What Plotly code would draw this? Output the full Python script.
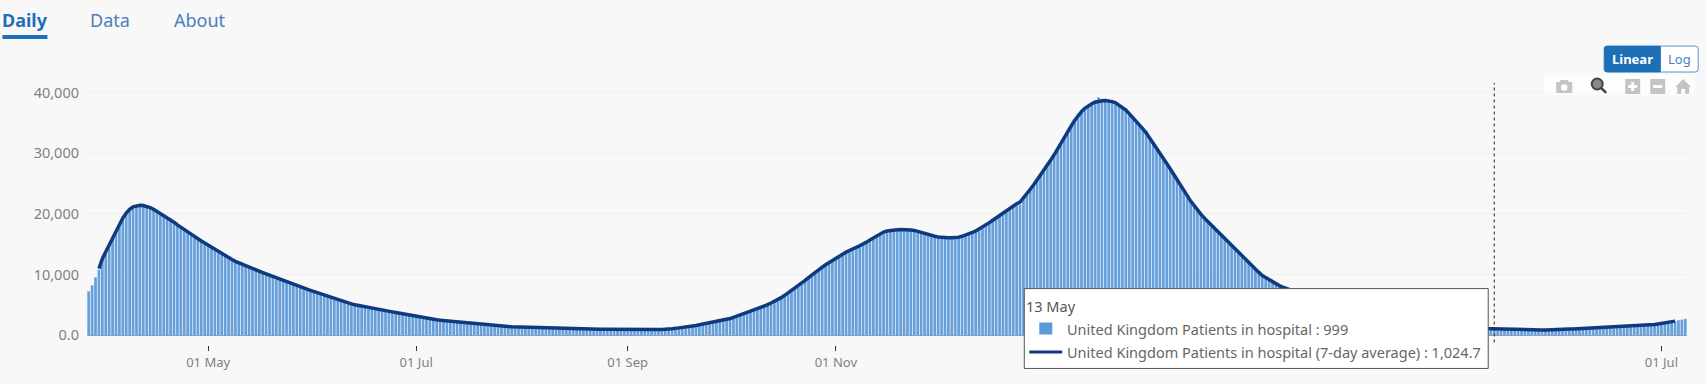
import pandas as pd
import plotly.graph_objects as go

START_DATE = "2020-03-27"
AVG_OFFSET = 3
SERIES_BARS = "United Kingdom Patients in hospital"
SERIES_AVG = "United Kingdom Patients in hospital (7-day average)"
TABS = ["Daily", "Data", "About"]
Y_TICKS = [0, 10000, 20000, 30000, 40000]
Y_LABELS = ["0.0", "10,000", "20,000", "30,000", "40,000"]
X_TICKS = ["2020-05-01", "2020-07-01", "2020-09-01", "2020-11-01", "2021-07-01"]
X_LABELS = ["01 May", "01 Jul", "01 Sep", "01 Nov", "01 Jul"]
TOOLTIP_DATE = "2021-05-13"
TOOLTIP_LABEL = "13 May"
TOOLTIP_BAR = "999"
TOOLTIP_AVG = "1,024.7"

patients = [
    7240,8230,9540,10800,12700,13700,15000,16200,16900,18300,
    19500,20100,20800,21100,21400,21500,21650,21100,20900,20800,
    20300,19800,19800,19300,18900,18700,18000,17700,17300,17100,
    16500,16100,15900,15500,15200,14800,14500,14200,13700,13400,
    13200,12900,12400,12200,11900,11700,11400,11200,11000,10800,
    10500,10300,10100,9900,9600,9400,9200,8950,8750,8550,
    8350,8150,7950,7750,7600,7400,7200,7000,6800,6600,
    6400,6200,5950,5800,5700,5480,5300,5150,5050,4900,
    4780,4650,4550,4450,4340,4240,4150,4050,3940,3840,
    3740,3630,3520,3420,3310,3200,3090,2990,2880,2780,
    2690,2610,2530,2470,2410,2350,2300,2240,2190,2130,
    2080,2020,1960,1900,1850,1800,1740,1680,1630,1580,
    1530,1480,1440,1410,1380,1360,1340,1320,1300,1280,
    1260,1240,1220,1190,1170,1150,1120,1100,1080,1070,
    1060,1050,1040,1030,1020,1015,1010,1010,1000,990,
    980,970,960,940,930,920,905,895,890,890,
    895,895,900,905,910,915,925,935,940,950,
    1000,1060,1120,1180,1250,1310,1370,1480,1590,1700,
    1810,1915,2020,2130,2240,2350,2460,2590,2740,2940,
    3140,3330,3520,3710,3920,4120,4320,4530,4760,5020,
    5290,5570,5850,6180,6570,6960,7350,7730,8110,8570,
    9030,9490,9960,10420,10820,11200,11590,11970,12320,12670,
    13010,13340,13680,13990,14230,14480,14730,14990,15330,15700,
    16050,16410,16780,16990,17150,17280,17350,17400,17430,17460,
    17410,17350,17260,17090,16930,16730,16500,16380,16280,16190,
    16110,16100,16060,16050,16080,16150,16290,16470,16690,16920,
    17170,17490,17860,18190,18540,18940,19400,19800,20250,20650,
    21000,21250,21300,21500,22800,23250,24000,24900,25700,26600,
    27300,27900,28900,29750,30700,31400,32650,33700,34700,35500,
    36500,37000,37500,37900,38200,38700,39200,38800,38750,38500,
    38400,38250,38000,37800,37450,36600,36000,35000,34700,34000,
    33700,32400,31600,30800,29800,29000,28000,27500,26700,25500,
    24800,24000,22700,22000,21400,20550,19950,19300,18650,18200,
    17600,17000,16450,15800,15400,14750,14200,13700,13100,12550,
    11950,11400,10850,10300,9800,9450,9100,8760,8460,8150,
    7900,7700,7480,7260,7040,6840,6640,6450,6270,6080,
    5880,5700,5520,5340,5170,5010,4850,4690,4540,4390,
    4250,4110,3970,3850,3730,3610,3500,3390,3280,3170,
    3070,2970,2870,2770,2680,2590,2500,2410,2330,2250,
    2170,2090,2020,1950,1880,1810,1750,1690,1620,1550,
    1490,1430,1370,1310,1220,1170,1135,1100,1085,1070,
    1050,1030,999,985,965,950,935,925,915,905,
    895,885,875,870,865,865,860,860,860,870,
    895,925,955,980,1000,1025,1050,1075,1105,1130,
    1155,1185,1215,1240,1270,1300,1330,1360,1390,1420,
    1445,1470,1500,1530,1560,1590,1610,1630,1680,1740,
    1840,1940,2040,2130,2220,2300,2480,2570,2680,
]

patients_avg = [
    10970,12600,13750,14900,16000,17000,18100,
    19310,20130,20750,21150,21350,21400,21370,21220,21030,20750,
    20420,20040,19750,19380,19090,18620,18180,17790,17390,16960,
    16570,16190,15860,15540,15200,14840,14490,14150,13810,13470,
    13130,12800,12470,12180,11930,11680,11440,11220,11000,10780,
    10550,10320,10100,9880,9650,9430,9200,8970,8770,8560,
    8360,8160,7960,7770,7590,7400,7210,7020,6820,6610,
    6400,6190,5990,5830,5700,5480,5320,5170,5030,4910,
    4790,4670,4560,4450,4350,4250,4150,4050,3950,3850,
    3750,3640,3530,3430,3320,3210,3100,3000,2880,2790,
    2700,2620,2540,2480,2420,2360,2310,2250,2200,2140,
    2090,2030,1970,1910,1860,1810,1750,1690,1640,1590,
    1540,1490,1450,1420,1390,1370,1350,1330,1310,1290,
    1270,1250,1230,1200,1180,1160,1130,1110,1090,1080,
    1070,1060,1050,1040,1030,1020,1020,1020,1010,1000,
    990,980,970,950,940,930,915,905,900,900,
    905,905,905,910,915,920,930,940,945,950,
    1010,1070,1130,1190,1260,1320,1380,1490,1600,1710,
    1820,1925,2030,2140,2250,2360,2470,2600,2750,2950,
    3150,3340,3530,3720,3930,4130,4330,4540,4770,5030,
    5300,5580,5860,6190,6580,6970,7360,7740,8120,8580,
    9040,9500,9970,10430,10830,11210,11600,11980,12330,12680,
    13020,13350,13690,14000,14240,14490,14740,15000,15340,15710,
    16060,16420,16790,17000,17160,17270,17340,17390,17420,17440,
    17400,17340,17270,17100,16920,16740,16540,16420,16300,16200,
    16120,16090,16070,16060,16070,16160,16300,16480,16700,16930,
    17180,17500,17850,18200,18550,18950,19350,19750,20100,20530,
    20980,21350,21650,21950,22600,23280,24050,24800,25580,26380,
    27180,28020,28880,29730,30630,31540,32470,33470,34480,35400,
    36200,36850,37400,37820,38150,38400,38570,38650,38680,38640,
    38500,38280,37920,37520,37120,36520,35930,35360,34700,34000,
    33300,32500,31700,30800,29960,29120,28280,27440,26600,25770,
    24850,23930,23000,22100,21300,20600,19950,19320,18750,18200,
    17630,17060,16500,15950,15390,14820,14270,13710,13150,12590,
    12010,11460,10900,10350,9830,9480,9130,8780,8480,8180,
    7940,7720,7500,7280,7060,6860,6660,6470,6290,6100,
    5900,5720,5540,5360,5190,5030,4870,4710,4560,4410,
    4270,4130,3990,3870,3750,3630,3520,3410,3300,3190,
    3090,2990,2890,2790,2700,2610,2520,2430,2350,2270,
    2190,2110,2040,1970,1900,1830,1770,1710,1640,1570,
    1510,1450,1390,1330,1240,1190,1155,1125,1105,1085,
    1065,1045,1024.7,1005,985,970,955,945,935,925,
    915,905,895,890,885,885,880,880,880,890,
    915,945,975,1000,1020,1045,1070,1095,1125,1150,
    1175,1205,1235,1260,1290,1320,1350,1380,1410,1440,
    1465,1490,1520,1550,1580,1610,1630,1650,1700,1760,
    1860,1960,2060,2150,2240,2320,
]

BG = "#f8f8f8"
BAR = "#669fda"
SWATCH = "#5b9bd5"
LINE = "#0f3a80"
BLUE = "#1d6fb8"
W, H = 1706, 384
L, R, T, B = 86.6, 1686.8, 83.0, 345.5

dates = pd.date_range(START_DATE, periods=len(patients), freq="D")
avg_dates = dates[AVG_OFFSET:AVG_OFFSET + len(patients_avg)]


def px(x):
    return (x - L) / (R - L)


def py(y):
    return (B - y) / (B - T)


def rect(x0, y0, x1, y1, fill=None, line=None, width=1):
    return dict(type="rect", xref="paper", yref="paper", x0=px(x0), x1=px(x1),
                y0=py(y0), y1=py(y1), fillcolor=fill or "rgba(0,0,0,0)",
                line=dict(color=line or "rgba(0,0,0,0)", width=width if line else 0))


def seg(x0, y0, x1, y1, color, width=1, dash=None):
    return dict(type="line", xref="paper", yref="paper", x0=px(x0), x1=px(x1),
                y0=py(y0), y1=py(y1), line=dict(color=color, width=width, dash=dash))


def path(points, fill=None, line=None, width=1):
    d = "M" + " L".join(f"{px(a):.5f},{py(b):.5f}" for a, b in points) + " Z"
    return dict(type="path", xref="paper", yref="paper", path=d,
                fillcolor=fill or "rgba(0,0,0,0)",
                line=dict(color=line or "rgba(0,0,0,0)", width=width if line else 0))


def half_round(x_square, x_round, y0, y1, r, fill, line):
    """Box with square corners at x_square and rounded corners at x_round."""
    s = 1 if x_round > x_square else -1
    xi = x_round - s * r
    d = (f"M{px(x_square):.5f},{py(y0):.5f} L{px(xi):.5f},{py(y0):.5f} "
         f"Q{px(x_round):.5f},{py(y0):.5f} {px(x_round):.5f},{py(y0 + r):.5f} "
         f"L{px(x_round):.5f},{py(y1 - r):.5f} "
         f"Q{px(x_round):.5f},{py(y1):.5f} {px(xi):.5f},{py(y1):.5f} "
         f"L{px(x_square):.5f},{py(y1):.5f} Z")
    return dict(type="path", xref="paper", yref="paper", path=d, fillcolor=fill,
                line=dict(color=line, width=1))


def circle(cx, cy, r, fill=None, line=None, width=1):
    return dict(type="circle", xref="paper", yref="paper", x0=px(cx - r), x1=px(cx + r),
                y0=py(cy + r), y1=py(cy - r), fillcolor=fill or "rgba(0,0,0,0)",
                line=dict(color=line or "rgba(0,0,0,0)", width=width if line else 0))


def text(x, y, s, size, color, anchor="left", bold=False):
    return dict(xref="paper", yref="paper", x=px(x), y=py(y), text=f"<b>{s}</b>" if bold else s,
                showarrow=False, xanchor=anchor, yanchor="middle",
                font=dict(size=size, color=color), align="left",
                borderpad=0, borderwidth=0)


GREY = "#c4c4c4"
shapes = [
    # spike line at the hovered date
    dict(type="line", xref="x", yref="paper", x0=TOOLTIP_DATE, x1=TOOLTIP_DATE,
         y0=py(343), y1=py(83), line=dict(color="#222222", width=1, dash="3px,3px")),
    # tabs underline
    rect(2, 35, 47, 39, fill=BLUE),
    # linear / log switch
    half_round(1660, 1698, 46, 72, 3, "#ffffff", "#5b94cc"),
    half_round(1660, 1604, 46, 72, 3, BLUE, BLUE),
    # modebar
    rect(1544, 75, 1694, 95, fill="rgba(255,255,255,0.7)"),
    rect(1556, 82, 1572, 93, fill=GREY),
    rect(1560, 80, 1568, 83, fill=GREY),
    circle(1564, 87.5, 3.2, fill="#ffffff"),
    circle(1597, 84, 5.5, fill="#888888", line="#444444", width=2),
    seg(1601, 88, 1606, 93, "#444444", 2.5),
    rect(1625, 79, 1640, 94, fill=GREY),
    rect(1631, 82, 1634, 91, fill="#ffffff"),
    rect(1628, 85, 1637, 88, fill="#ffffff"),
    rect(1650, 79, 1665, 94, fill=GREY),
    rect(1653, 85, 1662, 88, fill="#ffffff"),
    path([(1675, 87), (1683, 79), (1691, 87), (1689, 87), (1689, 94), (1685, 94),
          (1685, 89), (1681, 89), (1681, 94), (1677, 94), (1677, 87)], fill=GREY),
    # hover box
    rect(1024, 289, 1488, 369, fill="#ffffff", line="#555555", width=1),
    rect(1039, 323, 1052, 335, fill=SWATCH),
    seg(1029, 352.5, 1062, 352.5, LINE, 3),
]

annotations = [
    text(2, 20, TABS[0], 18, BLUE, bold=True),
    text(90, 20, TABS[1], 18, "#4a7fbd"),
    text(174, 20, TABS[2], 18, "#4a7fbd"),
    text(1632, 59, "Linear", 13, "#ffffff", anchor="center", bold=True),
    text(1679, 59, "Log", 13, "#4a7fbd", anchor="center"),
    text(1026, 306, TOOLTIP_LABEL, 14.5, "#555555"),
    text(1067, 329, f"{SERIES_BARS} : {TOOLTIP_BAR}", 14.5, "#666666"),
    text(1067, 353, f"{SERIES_AVG} : {TOOLTIP_AVG}", 14.5, "#666666"),
]

fig = go.Figure()
fig.add_bar(x=dates, y=patients, name=SERIES_BARS, marker=dict(color=BAR, line=dict(width=0)))
fig.add_scatter(x=avg_dates, y=patients_avg, name=SERIES_AVG, mode="lines",
                line=dict(color=LINE, width=3.5))

fig.update_layout(
    width=W, height=H, autosize=False,
    paper_bgcolor=BG, plot_bgcolor=BG,
    margin=dict(l=L, r=W - R, t=T, b=H - B, pad=0),
    showlegend=False, bargap=0.2,
    font=dict(family="Noto Sans, sans-serif", size=13, color="#7f7f7f"),
    shapes=shapes, annotations=annotations,
    xaxis=dict(
        type="date",
        range=["2020-03-26 12:00", "2021-07-08 12:00"],
        tickvals=X_TICKS, ticktext=X_LABELS,
        ticks="outside", ticklen=5, tickcolor="#333333", tickwidth=1,
        showgrid=False, zeroline=False, showline=False,
        tickfont=dict(size=13, color="#808080"),
    ),
    yaxis=dict(
        range=[-1612, 41562],
        tickvals=Y_TICKS, ticktext=Y_LABELS, ticklabelstandoff=7,
        showgrid=True, gridcolor="#efefef", gridwidth=1,
        zeroline=True, zerolinecolor="#8ba3bd", zerolinewidth=1,
        tickfont=dict(size=14.5, color="#808080"), ticks="", showline=False,
    ),
)

fig.write_html(
    "out.html",
    config={"displayModeBar": False},
    post_script="document.body.style.margin='0';document.body.style.background='#f8f8f8';document.documentElement.style.overflow='hidden';",
)
